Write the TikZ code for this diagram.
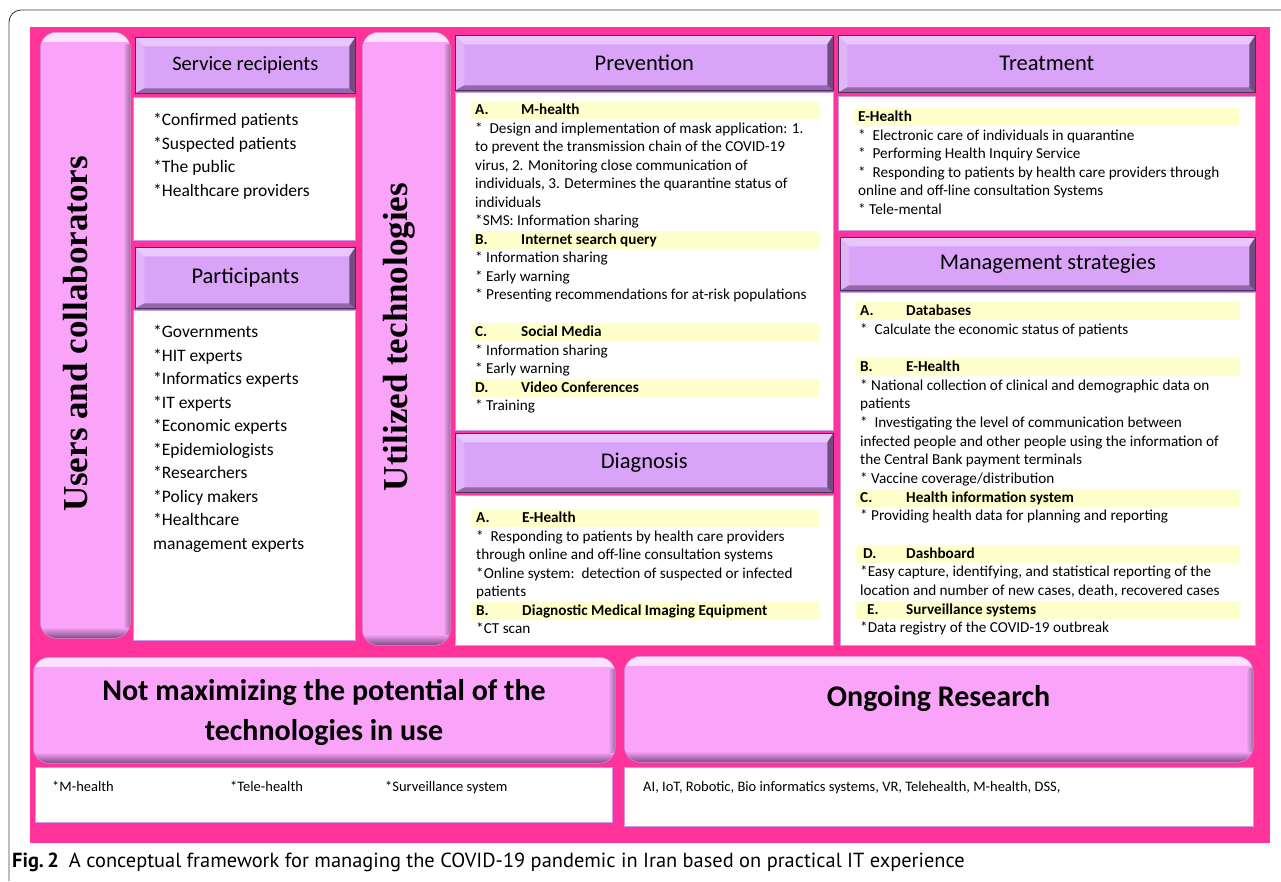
\documentclass[tikz,border=0pt]{standalone}
\usepackage{fontspec}
\setmainfont{Carlito}
\newfontfamily\titlefont{Liberation Serif}
\newfontfamily\capfont{PT Sans}

\definecolor{bgpink}{HTML}{FF3399}
\definecolor{pillfill}{HTML}{F9A3F9}
\definecolor{pillshadow}{HTML}{7B4A80}
\definecolor{headfill}{HTML}{D9A3F7}
\definecolor{headedge}{HTML}{4E2F5A}
\definecolor{bodyedge}{HTML}{C79AF2}
\definecolor{bandyellow}{HTML}{FFFFCC}

% yellow heading bars inside the text boxes
\setlength{\fboxsep}{0pt}
\newlength{\bandwd}
\newcommand{\band}[3][0pt]{\kern-4pt\colorbox{bandyellow}{\makebox[\bandwd][l]{\rule[-4.5pt]{0pt}{18pt}\kern4pt\bfseries\makebox[46pt][l]{\kern#1#2}#3}}}
\newcommand{\bandtitle}[1]{\kern-4pt\colorbox{bandyellow}{\makebox[\bandwd][l]{\rule[-4.5pt]{0pt}{18pt}\kern4pt\bfseries #1}}}

\tikzset{
  pill/.style={draw=pillshadow!35!pillfill, line width=.6pt, fill=pillfill, rounded corners=16pt, anchor=north west,
    path picture={
      \shade[sharp corners, top color=pillfill!30!white, bottom color=pillfill] (path picture bounding box.north west) rectangle ([yshift=-9pt]path picture bounding box.north east);
      \shade[sharp corners, top color=pillfill, bottom color=pillshadow] ([yshift=11pt]path picture bounding box.south west) rectangle (path picture bounding box.south east);
      \shade[sharp corners, left color=pillfill, right color=pillshadow!80] ([xshift=-7pt,yshift=-12pt]path picture bounding box.north east) rectangle ([yshift=11pt]path picture bounding box.south east);
    }},
  headbox/.style={draw=headedge, line width=.6pt, fill=headfill, anchor=north west,
    path picture={
      \fill[white, opacity=.4] (path picture bounding box.north west) -- (path picture bounding box.north east) -- ([xshift=-6pt,yshift=-9pt]path picture bounding box.north east) -- ([xshift=9pt,yshift=-9pt]path picture bounding box.north west) -- cycle;
      \fill[white, opacity=.2] (path picture bounding box.north west) -- ([xshift=9pt,yshift=-9pt]path picture bounding box.north west) -- ([xshift=9pt,yshift=5pt]path picture bounding box.south west) -- (path picture bounding box.south west) -- cycle;
      \fill[headedge, opacity=.5] (path picture bounding box.south west) -- ([xshift=9pt,yshift=5pt]path picture bounding box.south west) -- ([xshift=-6pt,yshift=5pt]path picture bounding box.south east) -- (path picture bounding box.south east) -- cycle;
      \fill[headedge, opacity=.75] (path picture bounding box.north east) -- ([xshift=-6pt,yshift=-9pt]path picture bounding box.north east) -- ([xshift=-6pt,yshift=5pt]path picture bounding box.south east) -- (path picture bounding box.south east) -- cycle;
    }},
  bodybox/.style={draw=bodyedge, line width=.8pt, fill=white, anchor=north west},
  listtext/.style={anchor=north west, align=left, font=\fontsize{17.5}{23.5}\selectfont},
  bodytext/.style={anchor=north west, align=left, font=\fontsize{15.2}{18.5}\selectfont},
  vtitle/.style={rotate=90, font=\titlefont\bfseries\fontsize{35}{40}\selectfont},
  bigtitle/.style={align=center, font=\bfseries\fontsize{30}{40}\selectfont},
}

\begin{document}
\begin{tikzpicture}[x=1pt, y=-1pt, every node/.style={inner sep=0pt}]
  \useasboundingbox (0,0) rectangle (1281,881);

  % page frame and background
  \draw[line width=.9pt, black!75, rounded corners=12pt] (9,881) |- (1281,10);
  \fill[bgpink] (30,27) rectangle (1270,843);

  % side columns
  \node[pill, minimum width=90pt, minimum height=606pt] (users) at (40,32) {};
  \node[vtitle] (userslbl) at (76,334) {Users and collaborators};
  \node[pill, minimum width=88pt, minimum height=613pt] (utilized) at (362,32) {};
  \node[vtitle] (utilizedlbl) at (399.5,337) {Utilized technologies};

  % users and collaborators
  \node[headbox, minimum width=220pt, minimum height=56pt, font=\fontsize{20.5}{24}\selectfont] (svchead) at (135,37) {Service recipients};
  \node[bodybox, minimum width=222pt, minimum height=143pt] (svcbody) at (133,97) {};
  \node[listtext] (svctxt) at (153,113) {*Confirmed patients\\ *Suspected patients\\ *The public\\ *Healthcare providers};

  \node[headbox, minimum width=220pt, minimum height=61pt, font=\fontsize{22.5}{27}\selectfont] (parthead) at (135,247) {Participants};
  \node[bodybox, minimum width=222pt, minimum height=330pt] (partbody) at (133,310) {};
  \node[listtext] (parttxt) at (153,325) {*Governments\\ *HIT experts\\ *Informatics experts\\ *IT experts\\ *Economic experts\\ *Epidemiologists\\ *Researchers\\ *Policy makers\\ *Healthcare\\ management experts};

  % utilized technologies
  \node[headbox, minimum width=378pt, minimum height=55pt, font=\fontsize{22.5}{27}\selectfont] (prevhead) at (455,35) {Prevention};
  \node[bodybox, minimum width=378pt, minimum height=338pt] (prevbody) at (455,92) {};
  \node[bodytext, execute at begin node={\setlength{\bandwd}{348pt}}] (prevtxt) at (475,101) {%
    \band{A.}{M-health}\\
    *\ \ Design and implementation of mask application: 1.\\
    to prevent the transmission chain of the COVID-19\\
    virus, 2. Monitoring close communication of\\
    individuals, 3. Determines the quarantine status of\\
    individuals\\
    *SMS: Information sharing\\
    \band{B.}{Internet search query}\\
    * Information sharing\\
    * Early warning\\
    * Presenting recommendations for at-risk populations\\
    \mbox{}\\
    \band{C.}{Social Media}\\
    * Information sharing\\
    * Early warning\\
    \band{D.}{Video Conferences}\\
    * Training};

  \node[headbox, minimum width=378pt, minimum height=59pt, font=\fontsize{22.5}{27}\selectfont] (diaghead) at (455,433) {Diagnosis};
  \node[bodybox, minimum width=378pt, minimum height=150pt] (diagbody) at (455,495) {};
  \node[bodytext, execute at begin node={\setlength{\bandwd}{347pt}}] (diagtxt) at (476,509) {%
    \band{A.}{E-Health}\\
    *\ \ Responding to patients by health care providers\\
    through online and off-line consultation systems\\
    *Online system:\ \ detection of suspected or infected\\
    patients\\
    \band{B.}{Diagnostic Medical Imaging Equipment}\\
    *CT scan};

  \node[headbox, minimum width=417pt, minimum height=57pt, font=\fontsize{22.5}{27}\selectfont] (treathead) at (838,35) {Treatment};
  \node[bodybox, minimum width=417pt, minimum height=134pt] (treatbody) at (838,96) {};
  \node[bodytext, execute at begin node={\setlength{\bandwd}{385pt}}] (treattxt) at (858,108) {%
    \bandtitle{E-Health}\\
    *\ \ Electronic care of individuals in quarantine\\
    *\ \ Performing Health Inquiry Service\\
    *\ \ Responding to patients by health care providers through\\
    online and off-line consultation Systems\\
    * Tele-mental};

  \node[headbox, minimum width=415pt, minimum height=53pt, font=\fontsize{22.5}{27}\selectfont] (mgmthead) at (840,237) {Management strategies};
  \node[bodybox, minimum width=415pt, minimum height=353pt] (mgmtbody) at (840,292) {};
  \node[bodytext, font=\fontsize{15.2}{18.65}\selectfont, execute at begin node={\setlength{\bandwd}{384pt}}] (mgmttxt) at (860,302) {%
    \band{A.}{Databases}\\
    *\ \ Calculate the economic status of patients\\
    \mbox{}\\
    \band{B.}{E-Health}\\
    * National collection of clinical and demographic data on\\
    patients\\
    *\ \ Investigating the level of communication between\\
    infected people and other people using the information of\\
    the Central Bank payment terminals\\
    * Vaccine coverage/distribution\\
    \band{C.}{Health information system}\\
    * Providing health data for planning and reporting\\
    \mbox{}\\
    \band[3pt]{D.}{Dashboard}\\
    *Easy capture, identifying, and statistical reporting of the\\
    location and number of new cases, death, recovered cases\\
    \band[7pt]{E.}{Surveillance systems}\\
    *Data registry of the COVID-19 outbreak};

  % bottom row
  \node[pill, minimum width=582pt, minimum height=106pt] (notmax) at (33,657) {};
  \node[bigtitle] (notmaxlbl) at (324,712) {Not maximizing the potential of the\\ technologies in use};
  \node[bodybox, minimum width=577pt, minimum height=55pt] (notmaxbody) at (35,767) {};
  \node[anchor=north west, font=\fontsize{14.5}{18}\selectfont] (notmaxtxt) at (52,781)
    {\makebox[178pt][l]{*M-health}\makebox[155pt][l]{*Tele-health}*Surveillance system};

  \node[pill, minimum width=629pt, minimum height=106pt] (ongoing) at (624,656) {};
  \node[bigtitle] (ongoinglbl) at (938.5,699) {Ongoing Research};
  \node[bodybox, minimum width=629pt, minimum height=59pt] (ongoingbody) at (624,767) {};
  \node[anchor=north west, font=\fontsize{14.5}{18}\selectfont] (ongoingtxt) at (643,781)
    {AI, IoT, Robotic, Bio informatics systems, VR, Telehealth, M-health, DSS,};

  % caption
  \node[anchor=west, font=\capfont\fontsize{20.4}{24}\selectfont] (caption) at (12,862)
    {\textbf{Fig.\,2}\hspace{10pt}A conceptual framework for managing the COVID-19 pandemic in Iran based on practical IT experience};
\end{tikzpicture}
\end{document}
